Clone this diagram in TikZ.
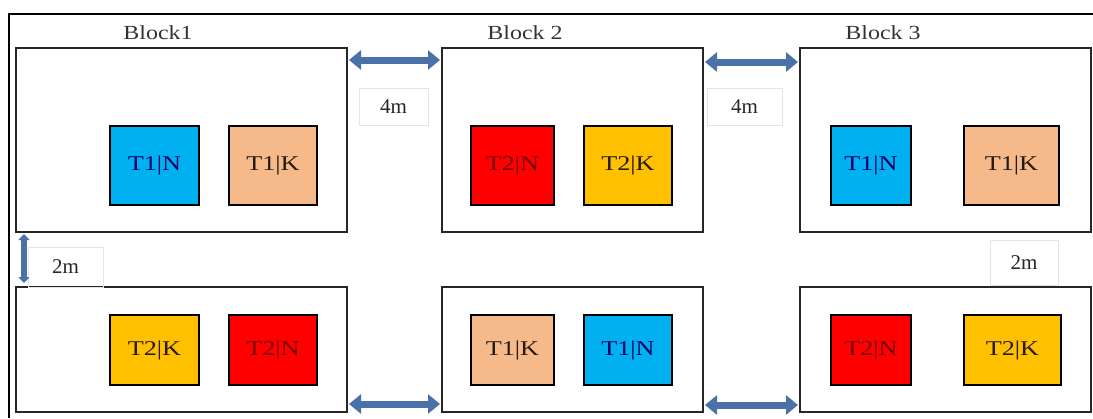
\documentclass[tikz,border=0pt]{standalone}
\usepackage{fontspec}
\setmainfont{Liberation Serif}
\usetikzlibrary{arrows.meta,calc}
\definecolor{tblue}{HTML}{00B0F0}
\definecolor{tpeach}{HTML}{F5B98A}
\definecolor{tred}{HTML}{FF0000}
\definecolor{torange}{HTML}{FFC000}
\definecolor{arrowblue}{HTML}{4A72A8}
\definecolor{labelgray}{HTML}{E4E4E4}
\definecolor{titlegray}{HTML}{333333}
\newcommand{\wtext}[2]{\scalebox{#1}[1]{#2}}
\begin{document}
\begin{tikzpicture}[x=1pt,y=-1pt,
  blockbox/.style={draw=black!85,line width=2pt,fill=white,inner sep=0pt,anchor=center},
  tbox/.style={draw=black,line width=2.4pt,inner sep=0pt,minimum height=79pt,font=\fontsize{21}{21}\selectfont},
  tboxlow/.style={tbox,minimum height=70pt},
  blocktitle/.style={font=\fontsize{20}{20}\selectfont,text=titlegray,inner sep=0pt},
  distlabel/.style={draw=labelgray,line width=0.8pt,inner sep=0pt,font=\fontsize{21}{21}\selectfont,text=black!85},
  gaparrow/.style={draw=arrowblue,line width=7pt,{Triangle[width=19pt,length=12pt,fill=arrowblue,color=arrowblue]}-{Triangle[width=19pt,length=12pt,fill=arrowblue,color=arrowblue]}},
  vgaparrow/.style={draw=arrowblue,line width=6pt,{Triangle[width=11pt,length=6pt,fill=arrowblue,color=arrowblue]}-{Triangle[width=11pt,length=6pt,fill=arrowblue,color=arrowblue]}}
]
\useasboundingbox (0,0) rectangle (1093,418);
% outer frame
\coordinate (frameTL) at (9,14);
\coordinate (frameTR) at (1093,14);
\coordinate (frameBL) at (9,418);
\draw[line width=1.3pt,black] (frameTR) -- (frameTL) -- (frameBL);

% blocks
\node[blockbox,minimum width=331pt,minimum height=184pt] (b1t) at (181.5,140) {};
\node[blockbox,minimum width=261pt,minimum height=184pt] (b2t) at (572.5,140) {};
\node[blockbox,minimum width=291pt,minimum height=184pt] (b3t) at (945.5,140) {};
\node[blockbox,minimum width=331pt,minimum height=125pt] (b1b) at (181.5,349.5) {};
\node[blockbox,minimum width=261pt,minimum height=125pt] (b2b) at (572.5,349.5) {};
\node[blockbox,minimum width=291pt,minimum height=125pt] (b3b) at (945.5,349.5) {};

% titles
\node[blocktitle] (t1) at (158,33) {\wtext{1.2}{Block1}};
\node[blocktitle] (t2) at (525,33) {\wtext{1.2}{Block 2}};
\node[blocktitle] (t3) at (883,33) {\wtext{1.2}{Block 3}};

% top row boxes
\node[tbox,fill=tblue,minimum width=89pt,text=blue!40!black] (b1tn) at (154.5,165.5) {\wtext{1.25}{T1|N}};
\node[tbox,fill=tpeach,minimum width=88pt,text=black!80!brown] (b1tk) at (273,165.5) {\wtext{1.25}{T1|K}};
\node[tbox,fill=tred,minimum width=83pt,text=red!45!black] (b2tn) at (512.5,165.5) {\wtext{1.25}{T2|N}};
\node[tbox,fill=torange,minimum width=88pt,text=black!80!brown] (b2tk) at (628,165.5) {\wtext{1.25}{T2|K}};
\node[tbox,fill=tblue,minimum width=80pt,text=blue!40!black] (b3tn) at (871,165.5) {\wtext{1.25}{T1|N}};
\node[tbox,fill=tpeach,minimum width=95pt,text=black!80!brown] (b3tk) at (1011.5,165.5) {\wtext{1.25}{T1|K}};

% bottom row boxes
\node[tboxlow,fill=torange,minimum width=89pt,text=black!80!brown] (b1bk) at (154.5,350) {\wtext{1.25}{T2|K}};
\node[tboxlow,fill=tred,minimum width=88pt,text=red!45!black] (b1bn) at (273,350) {\wtext{1.25}{T2|N}};
\node[tboxlow,fill=tpeach,minimum width=83pt,text=black!80!brown] (b2bk) at (512.5,350) {\wtext{1.25}{T1|K}};
\node[tboxlow,fill=tblue,minimum width=88pt,text=blue!40!black] (b2bn) at (628,350) {\wtext{1.25}{T1|N}};
\node[tboxlow,fill=tred,minimum width=80pt,text=red!45!black] (b3bn) at (871,350) {\wtext{1.25}{T2|N}};
\node[tboxlow,fill=torange,minimum width=97pt,text=black!80!brown] (b3bk) at (1012.5,350) {\wtext{1.25}{T2|K}};

% distance labels
\node[distlabel,minimum width=69pt,minimum height=37pt] (d1) at (393.5,106.5) {4m};
\node[distlabel,minimum width=75pt,minimum height=37pt] (d2) at (744.5,106.5) {4m};
\node[distlabel,minimum width=75pt,minimum height=40pt] (d3) at (65.5,267) {2m};
\node[distlabel,minimum width=68pt,minimum height=45pt] (d4) at (1024,262.5) {2m};

% arrows
\draw[gaparrow] ($(b1t.north east)+(1,13)$) -- ($(b2t.north west)+(-1,13)$);
\draw[gaparrow] ($(b2t.north east)+(1,15)$) -- ($(b3t.north west)+(-1,15)$);
\draw[gaparrow] ($(b1b.south east)+(1,-9)$) -- ($(b2b.south west)+(-1,-9)$);
\draw[gaparrow] ($(b2b.south east)+(1,-8)$) -- ($(b3b.south west)+(-1,-8)$);
\draw[vgaparrow] ($(b1t.south west)+(9,1)$) -- ($(b1b.north west)+(9,-3)$);
\end{tikzpicture}
\end{document}
